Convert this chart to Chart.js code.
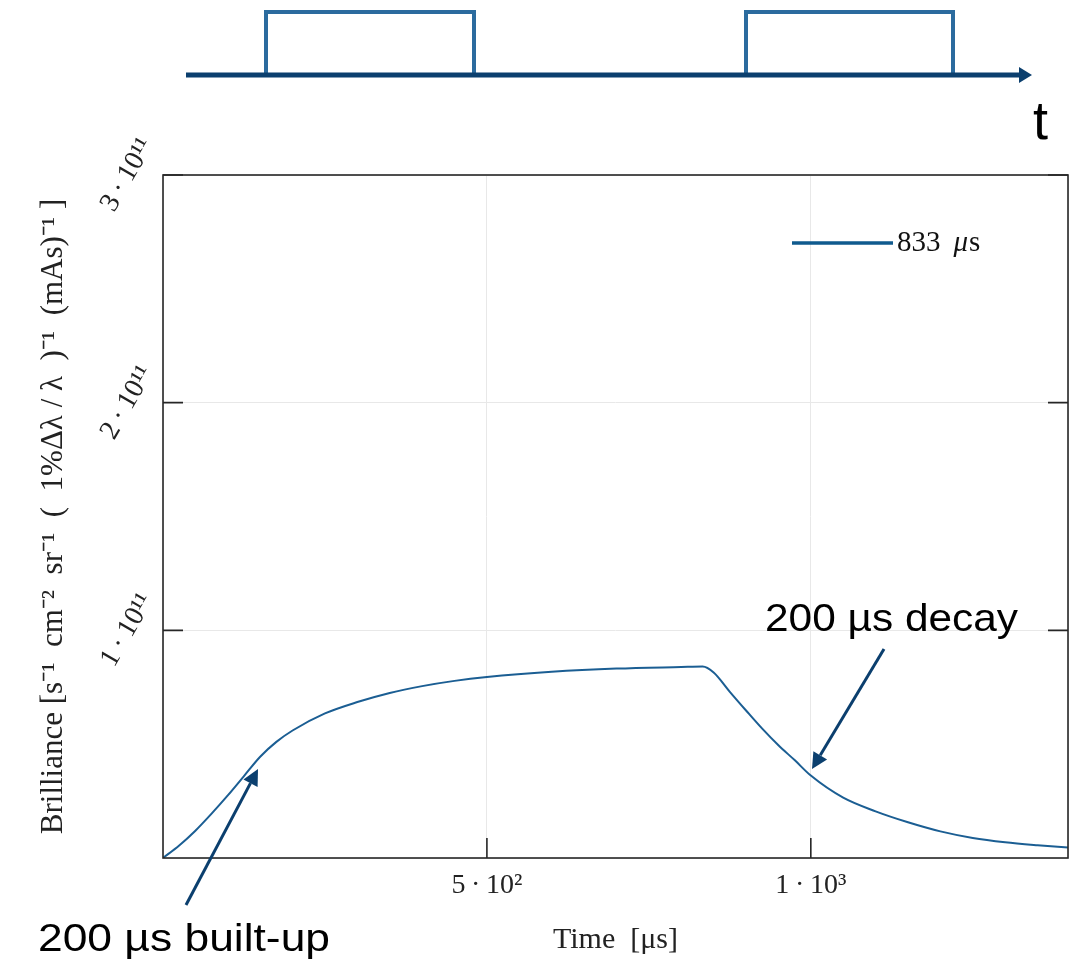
<!DOCTYPE html>
<html>
<head>
<meta charset="utf-8">
<script src="https://cdn.jsdelivr.net/npm/chart.js@4.4.1/dist/chart.umd.min.js"></script>
<style>
  html, body { margin: 0; padding: 0; background: #fff; overflow: hidden; }
  #wrap { position: relative; width: 1076px; height: 960px; }
</style>
</head>
<body>
<div id="wrap"><canvas id="myChart"></canvas></div>
<script>
// time in microseconds
const timeUs = [0, 25, 50, 75, 100, 125, 150, 175, 200, 250, 300, 350, 400, 450, 500,
  600, 700, 800, 833, 850, 875, 900, 925, 950, 975, 1000, 1050, 1100, 1150, 1200,
  1250, 1300, 1350, 1397];

// brilliance for the 833 us pulse
const brilliance = [0, 0.055e11, 0.12e11, 0.195e11, 0.275e11, 0.36e11, 0.445e11, 0.51e11,
  0.56e11, 0.635e11, 0.685e11, 0.725e11, 0.755e11, 0.778e11, 0.795e11,
  0.818e11, 0.832e11, 0.839e11, 0.841e11, 0.815e11, 0.73e11, 0.648e11, 0.568e11,
  0.495e11, 0.43e11, 0.362e11, 0.265e11, 0.205e11, 0.157e11, 0.117e11,
  0.088e11, 0.069e11, 0.056e11, 0.046e11];

const seriesLabel = '833 μs';

// axis ranges, tick values and their labels
const xMax = 1397;
const yMax = 3e11;
const xTicks = [500, 1000];
const xTickLabels = ['5\u2009·\u200910²', '1\u2009·\u200910³'];
const yTicks = [1e11, 2e11, 3e11];
const yTickLabels = ['1\u2009·\u200910¹¹', '2\u2009·\u200910¹¹', '3\u2009·\u200910¹¹'];

const lineColor = '#1b5e93';
const darkBlue = '#0b3f6e';
const serif = 'Liberation Serif';
const sans = 'Liberation Sans';

// arrow with a filled head
function arrow(ctx, x1, y1, x2, y2, head, half) {
  const ang = Math.atan2(y2 - y1, x2 - x1);
  const bx = x2 - head * Math.cos(ang);
  const by = y2 - head * Math.sin(ang);
  ctx.beginPath();
  ctx.moveTo(x1, y1);
  ctx.lineTo(bx, by);
  ctx.stroke();
  ctx.beginPath();
  ctx.moveTo(x2, y2);
  ctx.lineTo(bx + half * Math.sin(ang), by - half * Math.cos(ang));
  ctx.lineTo(bx - half * Math.sin(ang), by + half * Math.cos(ang));
  ctx.closePath();
  ctx.fill();
}

// text stretched to a given width
function wideText(ctx, text, x, y, width) {
  const k = width / ctx.measureText(text).width;
  ctx.save();
  ctx.translate(x, y);
  ctx.scale(k, 1);
  ctx.fillText(text, 0, 0);
  ctx.restore();
}

// frame, inner ticks, legend and the drawn notes
const overlay = {
  id: 'overlay',
  afterDatasetsDraw(chart) {
    const { ctx, chartArea: a, scales: { x, y } } = chart;
    ctx.save();

    // box round the plot
    ctx.strokeStyle = '#262626';
    ctx.lineWidth = 1.6;
    ctx.strokeRect(a.left, a.top, a.right - a.left, a.bottom - a.top);

    // ticks pointing inwards
    ctx.beginPath();
    for (const v of xTicks) {
      const p = x.getPixelForValue(v);
      ctx.moveTo(p, a.bottom);
      ctx.lineTo(p, a.bottom - 20);
    }
    for (const v of yTicks) {
      const p = y.getPixelForValue(v);
      ctx.moveTo(a.left, p);
      ctx.lineTo(a.left + 20, p);
      ctx.moveTo(a.right, p);
      ctx.lineTo(a.right - 20, p);
    }
    ctx.stroke();

    // legend inside the plot, top right
    const ds = chart.data.datasets[0];
    const ly = a.top + 68;
    ctx.strokeStyle = '#0f5a8e';
    ctx.lineWidth = 3.5;
    ctx.beginPath();
    ctx.moveTo(a.right - 276, ly);
    ctx.lineTo(a.right - 175, ly);
    ctx.stroke();
    ctx.fillStyle = '#111';
    ctx.textBaseline = 'middle';
    ctx.font = `29px "${serif}"`;
    const parts = ds.label.split(' ');
    let tx = a.right - 171;
    ctx.fillText(parts[0], tx, ly);
    tx += ctx.measureText(parts[0]).width + 13;
    ctx.font = `italic 29px "${serif}"`;
    ctx.fillText(parts[1][0], tx, ly);
    tx += ctx.measureText(parts[1][0]).width + 1;
    ctx.font = `29px "${serif}"`;
    ctx.fillText(parts[1].slice(1), tx, ly);

    // notes with arrows
    ctx.fillStyle = '#000';
    ctx.textBaseline = 'alphabetic';
    ctx.font = `39px "${sans}"`;
    wideText(ctx, '200 µs decay', 765, 631, 253);
    wideText(ctx, '200 µs built-up', 38, 951, 292);
    ctx.strokeStyle = darkBlue;
    ctx.fillStyle = darkBlue;
    ctx.lineWidth = 3;
    arrow(ctx, 884, 649, 812, 769, 16, 8);
    arrow(ctx, 186, 905, 258, 769, 16, 8);

    // pulse scheme above the plot
    ctx.strokeStyle = '#2b6b9e';
    ctx.lineWidth = 4;
    ctx.strokeRect(266, 12, 208, 63);
    ctx.strokeRect(746, 12, 207, 63);
    ctx.strokeStyle = darkBlue;
    ctx.fillStyle = darkBlue;
    ctx.lineWidth = 5;
    arrow(ctx, 186, 75, 1032, 75, 13, 8);
    ctx.fillStyle = '#000';
    ctx.font = `54px "${sans}"`;
    ctx.fillText('t', 1033, 139);

    ctx.restore();
  }
};

const ctx = document.getElementById('myChart').getContext('2d');
new Chart(ctx, {
  type: 'line',
  data: {
    datasets: [{
      label: seriesLabel,
      data: timeUs.map((t, i) => ({ x: t, y: brilliance[i] })),
      borderColor: lineColor,
      borderWidth: 2,
      pointRadius: 0,
      cubicInterpolationMode: 'monotone',
      fill: false
    }]
  },
  options: {
    responsive: true,
    maintainAspectRatio: false,
    animation: false,
    layout: { padding: { top: 175, right: 8, left: 0, bottom: 0 } },
    plugins: {
      legend: { display: false },
      tooltip: { enabled: false }
    },
    scales: {
      x: {
        type: 'linear',
        min: 0,
        max: xMax,
        border: { display: false },
        grid: { color: '#e8e8e8', lineWidth: 1, drawTicks: false },
        afterBuildTicks: s => { s.ticks = [0, ...xTicks, xMax].map(v => ({ value: v })); },
        ticks: {
          padding: 11,
          autoSkip: false,
          maxRotation: 0,
          color: '#222',
          font: { family: serif, size: 28 },
          callback: v => {
            const i = xTicks.indexOf(v);
            return i >= 0 ? xTickLabels[i] : '';
          }
        },
        title: {
          display: true,
          text: 'Time  [μs]',
          color: '#222',
          font: { family: serif, size: 30 },
          padding: { top: 0, bottom: 2 }
        },
        afterFit: s => { s.height = 102; s.paddingLeft = 0; s.paddingRight = 0; }
      },
      y: {
        min: 0,
        max: yMax,
        border: { display: false },
        grid: { color: '#e8e8e8', lineWidth: 1, drawTicks: false },
        afterBuildTicks: s => { s.ticks = [0, ...yTicks].map(v => ({ value: v })); },
        ticks: {
          padding: -4,
          minRotation: 60,
          maxRotation: 60,
          crossAlign: 'center',
          color: '#222',
          font: { family: serif, size: 28 },
          callback: v => {
            const i = yTicks.indexOf(v);
            return i >= 0 ? yTickLabels[i] : '';
          }
        },
        title: {
          display: true,
          text: 'Brilliance [s⁻¹  cm⁻²  sr⁻¹  (  1%Δλ / λ  )⁻¹  (mAs)⁻¹ ]',
          color: '#222',
          font: { family: serif, size: 31 },
          padding: { top: 35, bottom: 0 }
        },
        afterFit: s => { s.width = 163; s.paddingTop = 0; s.paddingBottom = 0; }
      }
    }
  },
  plugins: [overlay]
});
</script>
</body>
</html>
